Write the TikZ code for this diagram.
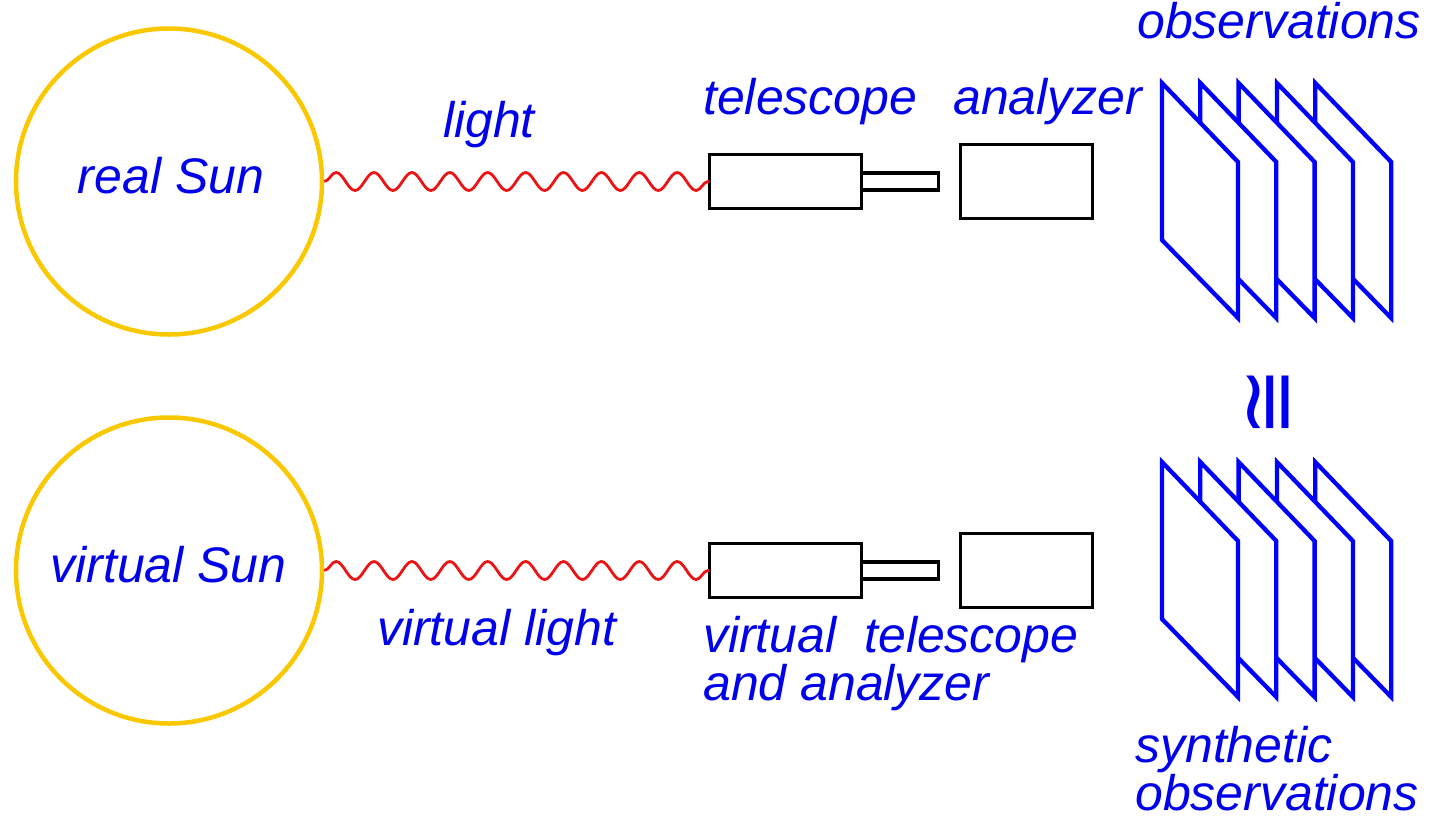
\documentclass[tikz,border=0pt]{standalone}
\usepackage{fontspec}
\setmainfont{Liberation Sans}
\newfontfamily\symfont{DejaVu Sans}
\usetikzlibrary{positioning,decorations.pathmorphing}
\definecolor{sunYellow}{RGB}{250,200,0}
\definecolor{labelBlue}{RGB}{0,0,235}
\definecolor{frameBlue}{RGB}{0,0,255}
\definecolor{lightRed}{RGB}{235,20,20}
\tikzset{
  sun/.style={circle, draw=sunYellow, line width=4.5pt, minimum size=306pt, inner sep=0pt},
  lbl/.style={text=labelBlue, font=\fontsize{50}{48}\selectfont\itshape, inner sep=0pt, anchor=base west, align=left},
  tube/.style={draw, line width=3.5pt, inner sep=0pt, outer sep=0pt},
  wave/.style={draw=lightRed, line width=2.8pt, decorate, decoration={snake, segment length=37.9pt, amplitude=9pt}},
  obsframe/.style={draw=frameBlue, fill=white, line width=4.3pt, line join=miter}
}
\begin{document}
\begin{tikzpicture}[x=1pt, y=-1pt]
  \useasboundingbox (0,0) rectangle (1430,823);
  % real Sun and instrument
  \node[sun] (sun) at (169,181.5) {};
  \node[lbl, anchor=base] (sunlbl) at (171,193) {real Sun};
  \node[tube, minimum width=152pt, minimum height=54pt] (tel) at (785.5,181.5) {};
  \node[tube, minimum width=77pt, minimum height=17pt, anchor=west] (eye) at (tel.east) {};
  \node[tube, minimum width=132pt, minimum height=74pt, right=22pt of eye] (ana) {};
  \draw[wave] (sun.east) -- (tel.west);
  \node[lbl, anchor=base] (lightlbl) at (489,137) {light};
  \node[lbl] (tellbl) at (703,114) {telescope};
  \node[lbl] (analbl) at (953,114) {analyzer};
  \node[lbl] (obslbl) at (1137,38) {observations};
  \foreach \i in {4,...,0}
    \draw[obsframe, shift={(\i*38.3,0)}] (1162,83) -- (1238,162) -- (1238,318) -- (1162,240) -- cycle;

  \node[text=labelBlue, font={\symfont\fontsize{84}{84}\selectfont}, rotate=90, inner sep=0pt] (approx) at (1272,402) {≅};

  % virtual Sun and instrument
  \node[sun] (vsun) at (169,570.5) {};
  \node[lbl, anchor=base] (vsunlbl) at (168.5,582) {virtual Sun};
  \node[tube, minimum width=152pt, minimum height=54pt] (vtel) at (785.5,570.5) {};
  \node[tube, minimum width=77pt, minimum height=17pt, anchor=west] (veye) at (vtel.east) {};
  \node[tube, minimum width=132pt, minimum height=74pt, right=22pt of veye] (vana) {};
  \draw[wave] (vsun.east) -- (vtel.west);
  \node[lbl] (vlightlbl) at (377,645) {virtual light};
  \node[lbl] (vtellbl) at (703,700) {virtual\ \ telescope\\and analyzer};
  \foreach \i in {4,...,0}
    \draw[obsframe, shift={(\i*38.3,379)}] (1162,83) -- (1238,162) -- (1238,318) -- (1162,240) -- cycle;
  \node[lbl] (synlbl) at (1135,810) {synthetic\\observations};
\end{tikzpicture}
\end{document}
